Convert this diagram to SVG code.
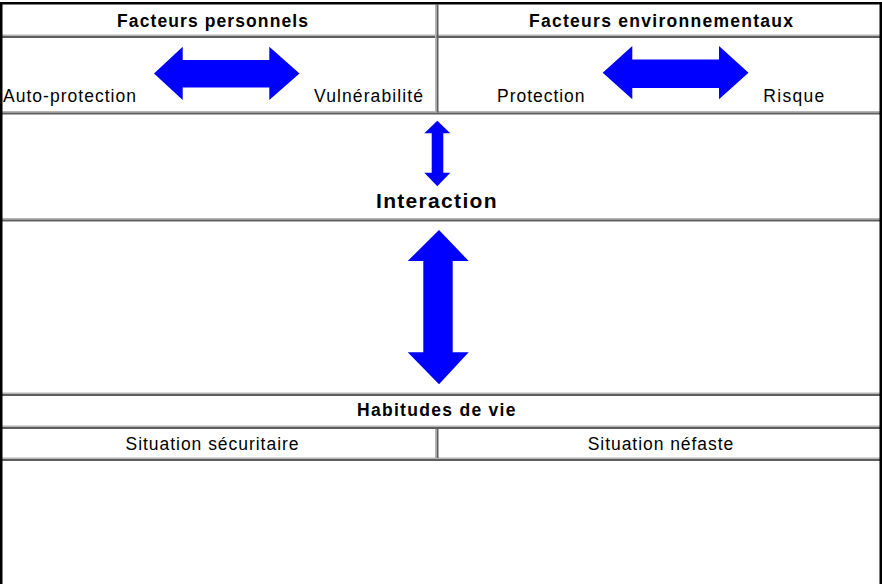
<svg xmlns="http://www.w3.org/2000/svg" width="882" height="584" viewBox="0 0 882 584">
<style>
.lt{fill:#b4b4b4}
.dk{fill:#5e5e5e}
.frame{fill:#000}
.hb{font-family:"Liberation Sans",Arial,sans-serif;font-weight:bold;font-size:17.5px;fill:#000}
.tx{font-family:"Liberation Sans",Arial,sans-serif;font-size:17.5px;fill:#000}
.big{font-family:"Liberation Sans",Arial,sans-serif;font-weight:bold;font-size:21px;fill:#000}
.arr{fill:#0000ff}
</style>
<rect width="882" height="584" fill="#fff"/>
<g id="grid">
  <rect class="lt" x="2" y="34.5" width="878" height="1.5"/><rect class="dk" x="2" y="36" width="878" height="2"/>
  <rect class="lt" x="2" y="111" width="878" height="1.5"/><rect class="dk" x="2" y="112.5" width="878" height="2"/>
  <rect class="lt" x="2" y="218" width="878" height="1.5"/><rect class="dk" x="2" y="219.5" width="878" height="2"/>
  <rect class="lt" x="2" y="392.5" width="878" height="1.5"/><rect class="dk" x="2" y="394" width="878" height="2"/>
  <rect class="lt" x="2" y="425.5" width="878" height="1.5"/><rect class="dk" x="2" y="427" width="878" height="2"/>
  <rect class="lt" x="2" y="457.5" width="878" height="1.5"/><rect class="dk" x="2" y="459" width="878" height="2"/>
  <rect class="lt" x="435" y="4.5" width="1.7" height="108"/><rect class="dk" x="436.7" y="4.5" width="1.8" height="108"/>
  <rect class="lt" x="435" y="429" width="1.7" height="29"/><rect class="dk" x="436.7" y="429" width="1.8" height="29"/>
  <rect class="frame" x="0" y="2" width="882" height="2.5"/>
  <rect class="frame" x="0" y="2" width="2.5" height="582"/>
  <rect class="frame" x="879.5" y="2" width="2.5" height="582"/>
</g>
<g id="facteurs-personnels"><text class="hb" x="117" y="27" textLength="191" lengthAdjust="spacing">Facteurs personnels</text></g>
<g id="facteurs-environnementaux"><text class="hb" x="529" y="27" textLength="264" lengthAdjust="spacing">Facteurs environnementaux</text></g>
<g id="auto-protection"><text class="tx" x="3" y="102" textLength="133" lengthAdjust="spacing">Auto-protection</text></g>
<g id="vulnerabilite"><text class="tx" x="314" y="102" textLength="109" lengthAdjust="spacing">Vulnérabilité</text></g>
<g id="protection"><text class="tx" x="497" y="102" textLength="87.5" lengthAdjust="spacing">Protection</text></g>
<g id="risque"><text class="tx" x="763.3" y="102" textLength="61" lengthAdjust="spacing">Risque</text></g>
<g id="interaction"><text class="big" x="376" y="207.5" textLength="120.5" lengthAdjust="spacing">Interaction</text></g>
<g id="habitudes-de-vie"><text class="hb" x="357" y="416" textLength="158.5" lengthAdjust="spacing">Habitudes de vie</text></g>
<g id="situation-securitaire"><text class="tx" x="125.5" y="449.5" textLength="173" lengthAdjust="spacing">Situation sécuritaire</text></g>
<g id="situation-nefaste"><text class="tx" x="587.7" y="449.5" textLength="145.6" lengthAdjust="spacing">Situation néfaste</text></g>
<g id="connectors">
  <polygon class="arr" points="154,73.5 182.7,46.7 182.7,60 269.3,60 269.3,46.7 299.5,73.5 269.3,100 269.3,87.5 182.7,87.5 182.7,100"/>
  <polygon class="arr" points="602.7,72.7 632.3,46 632.3,59.5 719,59.5 719,46 748.5,72.7 719,99.3 719,88 632.3,88 632.3,99.3"/>
  <polygon class="arr" points="437.3,120.7 450.3,133.3 443.3,133.3 443.3,172.7 450.3,172.7 437.3,186.3 424.3,172.7 431.7,172.7 431.7,133.3 424.3,133.3"/>
  <polygon class="arr" points="439,230 468.7,261 452.7,261 452.7,352.3 468.7,352.3 439,384.3 407.7,352.3 423.3,352.3 423.3,261 407.7,261"/>
</g>
</svg>
